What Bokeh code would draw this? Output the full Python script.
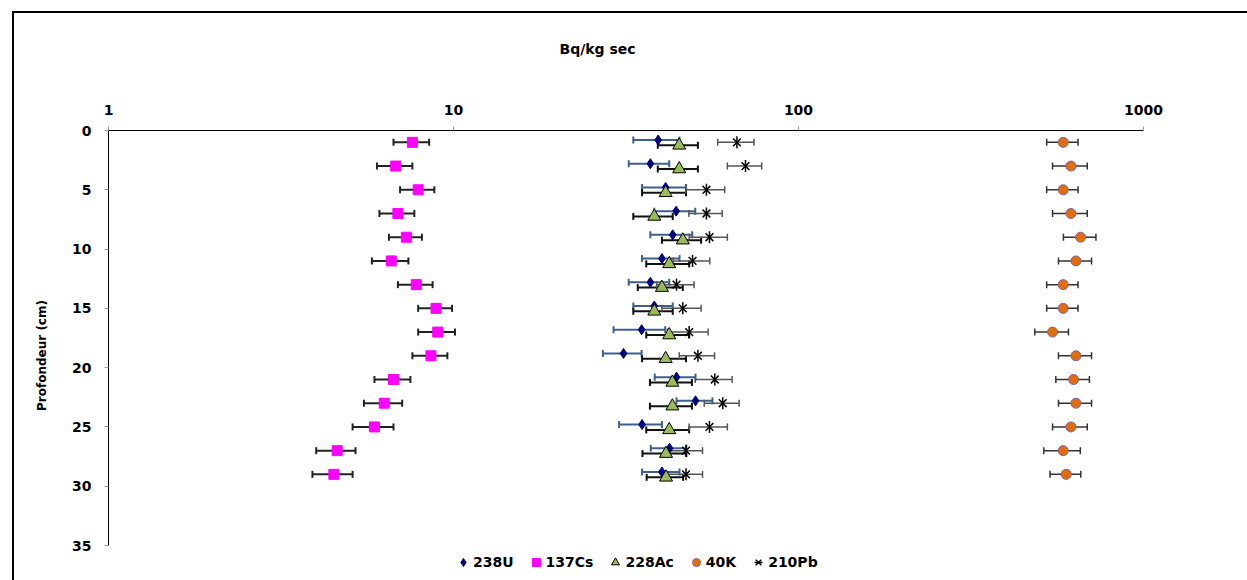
from bokeh.plotting import figure
from bokeh.models import (ColumnDataSource, Range1d, FixedTicker, Whisker, TeeHead,
                          Legend, LegendItem, Title)
from bokeh.transform import dodge
from bokeh.embed import file_html
from bokeh.resources import INLINE

# Depth of each soil slice (cm)
depth = [1, 3, 5, 7, 9, 11, 13, 15, 17, 19, 21, 23, 25, 27, 29]

# Activities (Bq/kg dry) and their uncertainties
u238 = [39.2, 37.2, 41.2, 44.2, 43.2, 40.2, 37.2, 38.2, 35.1, 31.1, 44.3, 50.3, 35.2, 42.3, 40.2]
u238_err = [6.0, 5.0, 6.0, 6.0, 6.0, 5.0, 5.0, 5.0, 6.0, 4.0, 6.0, 6.0, 5.0, 5.0, 5.0]

cs137 = [7.6, 6.8, 7.9, 6.9, 7.3, 6.6, 7.8, 8.9, 9.0, 8.6, 6.7, 6.3, 5.9, 4.6, 4.5]
cs137_err = [0.9, 0.8, 0.9, 0.8, 0.8, 0.8, 0.9, 1.0, 1.1, 1.0, 0.8, 0.8, 0.8, 0.6, 0.6]

ac228 = [45.1, 45.1, 41.2, 38.2, 46.2, 42.2, 40.2, 38.2, 42.2, 41.2, 43.1, 43.1, 42.2, 41.3, 41.3]
ac228_err = [6.0, 6.0, 6.0, 5.0, 6.0, 6.0, 6.0, 5.0, 6.0, 6.0, 6.0, 6.0, 6.0, 6.0, 5.0]

k40 = [585, 616, 585, 616, 657, 637, 585, 585, 545, 637, 627, 637, 616, 585, 597]
k40_err = [61, 71, 61, 71, 71, 70, 61, 61, 61, 70, 70, 70, 71, 71, 61]

pb210 = [66.3, 70.2, 54.1, 54.1, 55.2, 49.3, 44.3, 46.2, 48.2, 51.1, 57.2, 60.3, 55.2, 47.2, 47.2]
pb210_err = [8.0, 8.0, 7.0, 6.0, 7.0, 6.0, 5.5, 6.0, 6.5, 6.0, 7.0, 7.0, 7.0, 5.5, 5.5]

x_ticks = [1, 10, 100, 1000]
x_tick_labels = ["1", "10", "100", "1000"]
y_ticks = [0, 5, 10, 15, 20, 25, 30, 35]
depth_max = 35

FONT = "DejaVu Sans"

# The plotting area runs down to the canvas bottom so the legend can sit
# under the depth axis; the axis itself stops at depth_max.
frame_h = 450
axis_h = 415
p = figure(width=1247, height=580, x_axis_type="log", x_axis_location="above",
           x_range=Range1d(1, 1000),
           y_range=Range1d(depth_max * frame_h / axis_h, 0),
           output_backend="svg", toolbar_location=None,
           min_border_left=108, min_border_right=104,
           min_border_top=130, min_border_bottom=0)
p.outline_line_color = None
p.grid.visible = False
p.background_fill_color = None
p.border_fill_color = None
# chart-area frame line (left and top edges)
p.styles = {"box-shadow": "inset 12px 11px 0 0 white, inset 14px 13px 0 0 black",
            "background-color": "white"}

# axes
xa = p.xaxis[0]
xa.ticker = FixedTicker(ticks=x_ticks)
xa.major_label_overrides = dict(zip(x_ticks, x_tick_labels))
ya = p.yaxis[0]
ya.ticker = FixedTicker(ticks=y_ticks)
ya.bounds = (0, depth_max)
ya.axis_label = "Profondeur (cm)"
ya.axis_label_standoff = 20
ya.axis_label_text_font = FONT
ya.axis_label_text_font_style = "bold"
ya.axis_label_text_font_size = "12px"
ya.axis_label_text_color = "black"
for ax in (xa, ya):
    ax.axis_line_color = "black"
    ax.axis_line_width = 1
    ax.major_tick_line_color = "#999999"
    ax.major_tick_in = 0
    ax.major_tick_out = 4
    ax.minor_tick_line_color = None
    ax.major_label_text_font = FONT
    ax.major_label_text_font_style = "bold"
    ax.major_label_text_font_size = "14px"
    ax.major_label_text_color = "black"
xa.major_label_standoff = 12
ya.major_label_standoff = 13

# gap between the value axis and the unit caption
p.add_layout(Title(text=" ", text_font_size="1px", standoff=42), "above")
p.add_layout(Title(text="Bq/kg sec", align="left", offset=451, standoff=0,
                   text_font=FONT, text_font_style="bold", text_font_size="14px",
                   text_color="black"), "above")


def add_series(values, errs, shift, color_bar, bar_width):
    src = ColumnDataSource(dict(depth=depth, v=values,
                                lo=[v - e for v, e in zip(values, errs)],
                                hi=[v + e for v, e in zip(values, errs)]))
    yspec = dodge("depth", shift)
    w = Whisker(source=src, base=yspec, lower="lo", upper="hi", dimension="width",
                line_color=color_bar, line_width=bar_width, level="underlay",
                lower_head=TeeHead(size=7, line_color=color_bar, line_width=bar_width),
                upper_head=TeeHead(size=7, line_color=color_bar, line_width=bar_width))
    p.add_layout(w)
    return src, yspec


items = []

src, ys = add_series(u238, u238_err, -0.2, "#3F5F8F", 2)
r = p.scatter("v", ys, source=src, marker="diamond", size=10,
              fill_color="#000080", line_color="#000080")
items.append(LegendItem(label="238U", renderers=[r]))

src, ys = add_series(cs137, cs137_err, 0.0, "#222222", 2)
r = p.scatter("v", ys, source=src, marker="square", size=10,
              fill_color="#FF00FF", line_color="#FF00FF")
items.append(LegendItem(label="137Cs", renderers=[r]))

src, ys = add_series(ac228, ac228_err, 0.25, "#111111", 2)
r = p.scatter("v", ys, source=src, marker="triangle", size=13,
              fill_color="#9BBB59", line_color="black", line_width=1)
items.append(LegendItem(label="228Ac", renderers=[r]))

src, ys = add_series(k40, k40_err, 0.0, "#333333", 1.5)
r = p.scatter("v", ys, source=src, marker="circle", size=10,
              fill_color="#E46C0A", line_color="#8064A2", line_width=1)
items.append(LegendItem(label="40K", renderers=[r]))

src, ys = add_series(pb210, pb210_err, 0.0, "#555555", 1.5)
r1 = p.scatter("v", ys, source=src, marker="x", size=11,
               line_color="black", line_width=1.5)
r2 = p.scatter("v", ys, source=src, marker="dash", size=12, angle=1.5708,
               line_color="black", line_width=1.5)
items.append(LegendItem(label="210Pb", renderers=[r1, r2]))

legend = Legend(items=items, orientation="horizontal", location=(345, 8),
                border_line_color=None, background_fill_alpha=0,
                label_text_font=FONT, label_text_font_style="bold",
                label_text_font_size="14px", label_text_color="black",
                glyph_width=20, glyph_height=20,
                label_standoff=0, spacing=12, padding=0, margin=0)
p.add_layout(legend, "center")

open("out.html", "w").write(file_html(p, INLINE))
